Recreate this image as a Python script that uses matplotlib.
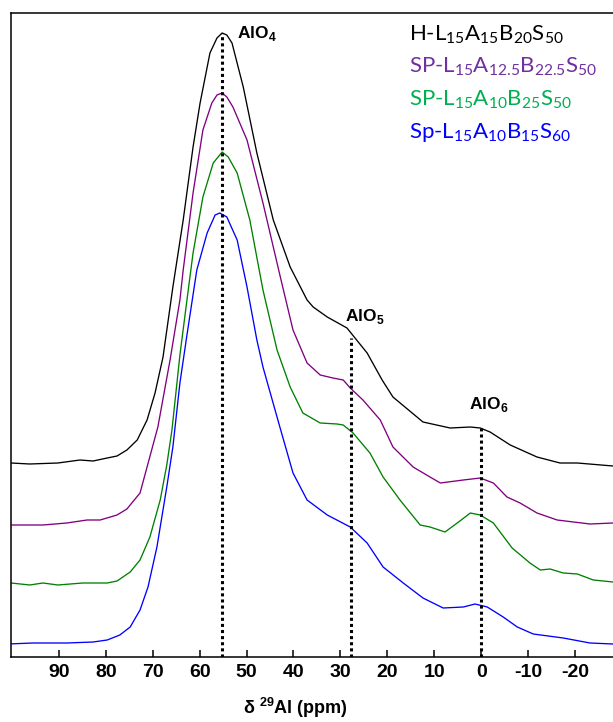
import matplotlib
matplotlib.use("Agg")
import matplotlib.pyplot as plt

plt.rcParams['mathtext.fontset'] = 'custom'
plt.rcParams['mathtext.rm'] = 'Lato'
plt.rcParams['mathtext.bf'] = 'Liberation Sans:bold'
plt.rcParams['axes.unicode_minus'] = False

# 27Al MAS NMR spectra (ppm, intensity in a.u.)
ppm_h = [100.2, 96.2, 90.2, 85.5, 82.7, 79.7, 77.6, 75.5, 73.3, 71.2, 69.5, 67.8, 66.3, 65.7,
         63.5, 61.4, 59.9, 57.8, 56.3, 55.2, 54.2, 53.1, 50.7, 47.8, 44.3, 40.7, 37.1, 35.8,
         32.8, 28.6, 24.3, 21.1, 18.8, 12.4, 6.6, 2.3, 0.2, -1.9, -6.2, -11.9, -16.8, -20.5, -28.1]
int_h = [0, -1, 0, 3, 2, 5, 7, 13, 23, 43, 70, 106, 156, 176,
         243, 316, 360, 410, 425, 430, 428, 420, 376, 310, 243, 196, 163, 156,
         146, 135, 110, 83, 66, 41, 35, 36, 35, 31, 18, 6, 0, 0, -3]

ppm_sp1 = [100.2, 93.4, 88.3, 84.0, 81.2, 77.6, 75.5, 72.7, 71.2, 68.9, 66.3, 64.2, 63.5, 61.4,
           59.3, 57.4, 56.3, 55.2, 54.2, 52.9, 49.9, 46.5, 42.9, 40.1, 37.1, 34.3, 31.6, 29.4,
           27.9, 25.2, 21.5, 18.8, 14.5, 10.9, 8.7, 3.8, 0.2, -2.6, -5.5, -8.3, -11.9, -16.2,
           -23.2, -28.1]
int_sp1 = [-1, -1, 1, 4, 4, 9, 15, 31, 57, 97, 164, 224, 254, 331,
           394, 421, 429, 431, 427, 417, 384, 321, 249, 194, 161, 149, 146, 144,
           136, 124, 104, 77, 57, 47, 41, 44, 46, 41, 27, 21, 11, 4,
           0, 1]

ppm_sp2 = [100.2, 96.2, 93.4, 90.2, 84.9, 79.7, 77.6, 74.8, 72.7, 70.6, 68.4, 67.0, 65.9, 64.2,
           62.7, 61.4, 59.3, 57.1, 55.2, 53.9, 52.0, 49.3, 46.5, 43.5, 40.7, 38.0, 34.3, 30.7,
           29.4, 27.3, 23.7, 20.9, 17.3, 13.0, 10.9, 7.7, 5.1, 2.3, 0.2, -2.6, -6.6, -10.4,
           -12.6, -14.7, -17.5, -20.5, -23.9, -28.1]
int_sp2 = [1, -1, 1, -1, 1, 1, 3, 12, 24, 47, 84, 119, 154, 229,
           284, 331, 387, 421, 432, 427, 411, 364, 294, 234, 197, 171, 161, 160,
           159, 151, 131, 107, 84, 59, 57, 52, 61, 71, 69, 61, 36, 21,
           14, 15, 11, 10, 4, 2]

ppm_sp3 = [100.9, 95.5, 88.3, 82.7, 79.7, 77.0, 74.8, 72.7, 71.0, 69.1, 67.0, 65.7, 64.2, 62.7,
           60.6, 58.4, 56.7, 55.7, 54.2, 52.0, 49.9, 47.8, 46.5, 42.9, 40.1, 37.1, 32.8, 27.9,
           24.3, 20.9, 16.6, 12.4, 8.1, 3.8, 1.3, -1.3, -4.7, -7.7, -11.1, -17.5, -23.2, -28.1]
int_sp3 = [0, 1, 1, 2, 4, 9, 17, 34, 57, 97, 157, 197, 261, 309,
           374, 411, 429, 431, 427, 404, 357, 304, 277, 217, 171, 144, 129, 117,
           101, 77, 61, 46, 36, 37, 40, 37, 27, 17, 10, 6, 1, 0]

labels = [r'H-L$_{15}$A$_{15}$B$_{20}$S$_{50}$',
          r'SP-L$_{15}$A$_{12.5}$B$_{22.5}$S$_{50}$',
          r'SP-L$_{15}$A$_{10}$B$_{25}$S$_{50}$',
          r'Sp-L$_{15}$A$_{10}$B$_{15}$S$_{60}$']
offsets = [194, 133, 73, 13]
line_colors = ['black', '#800080', '#008000', '#0000ff']
text_colors = ['black', '#7030a0', '#00b050', '#0000ff']

# peak positions (ppm) for the dotted markers
sites = [r'AlO$_\mathbf{4}$', r'AlO$_\mathbf{5}$', r'AlO$_\mathbf{6}$']
site_ppm = [55.2, 27.7, 0.0]
site_top = [430, 125, 35]   # height on the top spectrum

fig = plt.figure(figsize=(6.13, 7.22), dpi=100)
ax = fig.add_axes([11 / 613, 65 / 722, 602 / 613, 644 / 722])

series = [(ppm_h, int_h), (ppm_sp1, int_sp1), (ppm_sp2, int_sp2), (ppm_sp3, int_sp3)]
for (x, y), off, c in zip(series, offsets, line_colors):
    ax.plot(x, [v + off for v in y], color=c, lw=0.95)

for p, top in zip(site_ppm, site_top):
    ax.plot([p, p], [0, top + offsets[0]], color='black', lw=2.2, ls=(0, (1, 1)))

ax.text(52.0, 624, sites[0], fontsize=12.5, fontweight='bold', family='Liberation Sans',
        va='center', ha='left')
ax.text(29.0, 341, sites[1], fontsize=12.5, fontweight='bold', family='Liberation Sans',
        va='center', ha='left')
ax.text(2.6, 252, sites[2], fontsize=12.5, fontweight='bold', family='Liberation Sans',
        va='center', ha='left')

for i, (lab, c) in enumerate(zip(labels, text_colors)):
    ax.text(0.661, (657 - 40 - 32.5 * i) / 644, lab, transform=ax.transAxes, color=c,
            fontsize=16, family='Lato', va='baseline', ha='left')

ax.set_xlim(100.2, -28.1)
ax.set_ylim(0, 644)
ax.set_xticks([90, 80, 70, 60, 50, 40, 30, 20, 10, 0, -10, -20])
ax.set_yticks([])
ax.tick_params(axis='x', direction='in', length=5, width=1.1, pad=5, labelsize=14)
for lab in ax.get_xticklabels():
    lab.set_fontweight('bold')
    lab.set_family('Liberation Sans')
ax.spines['right'].set_visible(False)
for s in ['left', 'top', 'bottom']:
    ax.spines[s].set_linewidth(1.1)

fig.text(295 / 613, 1 - 708 / 722, r'δ $^{\mathbf{29}}$Al (ppm)', fontsize=13,
         fontweight='bold', family='Liberation Sans', ha='center', va='center')

fig.savefig('out.png', dpi=100)
